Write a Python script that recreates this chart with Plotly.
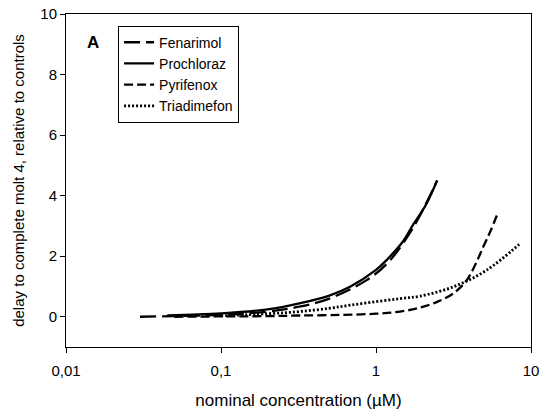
import plotly.graph_objects as go

# Data
fenarimol_x = [0.03, 0.05, 0.1, 0.2, 0.32, 0.5, 0.87, 1.2, 1.74, 2.48]
fenarimol_y = [0.0, 0.02, 0.06, 0.17, 0.33, 0.6, 1.21, 1.8, 2.95, 4.5]

prochloraz_x = [0.045, 0.1, 0.2, 0.32, 0.5, 0.68, 1.0, 1.17, 1.5, 1.74, 2.1, 2.48]
prochloraz_y = [0.04, 0.11, 0.24, 0.44, 0.7, 0.99, 1.55, 1.87, 2.5, 3.05, 3.7, 4.5]

pyrifenox_x = [0.05, 0.1, 0.2, 0.32, 0.6, 1.0, 1.43, 1.92, 2.5, 3.16, 3.85, 4.4, 4.92, 5.5, 6.07]
pyrifenox_y = [0.0, 0.01, 0.02, 0.04, 0.06, 0.1, 0.17, 0.3, 0.5, 0.77, 1.21, 1.75, 2.31, 2.85, 3.39]

triadimefon_x = [0.1, 0.2, 0.32, 0.5, 0.68, 1.0, 1.43, 1.92, 3.16, 5.18, 8.38]
triadimefon_y = [0.03, 0.1, 0.17, 0.28, 0.38, 0.5, 0.6, 0.68, 0.99, 1.54, 2.39]

x_tickvals = [0.01, 0.1, 1, 10]
x_ticktext = ["0,01", "0,1", "1", "10"]
y_tickvals = [0, 2, 4, 6, 8, 10]

FONT = "Arial, Liberation Sans, sans-serif"

fig = go.Figure()
fig.add_trace(go.Scatter(x=fenarimol_x, y=fenarimol_y, mode="lines", name="Fenarimol",
                         line=dict(color="black", width=2.3, dash="16px,6px", shape="spline")))
fig.add_trace(go.Scatter(x=prochloraz_x, y=prochloraz_y, mode="lines", name="Prochloraz",
                         line=dict(color="black", width=2.3, shape="spline")))
fig.add_trace(go.Scatter(x=pyrifenox_x, y=pyrifenox_y, mode="lines", name="Pyrifenox",
                         line=dict(color="black", width=2.3, dash="9px,4px", shape="spline")))
fig.add_trace(go.Scatter(x=triadimefon_x, y=triadimefon_y, mode="lines", name="Triadimefon",
                         line=dict(color="black", width=2.8, dash="2px,2px", shape="spline")))

fig.update_layout(
    width=542, height=414,
    margin=dict(l=66, r=11, t=14, b=67),
    paper_bgcolor="white", plot_bgcolor="white",
    font=dict(family=FONT, size=14, color="black"),
    showlegend=True,
    legend=dict(x=0.112, y=0.965, xanchor="left", yanchor="top",
                bordercolor="black", borderwidth=1, bgcolor="white",
                font=dict(size=14), tracegroupgap=0, itemwidth=30),
    xaxis=dict(type="log", range=[-2, 1], tickvals=x_tickvals, ticktext=x_ticktext,
               ticks="outside", ticklen=5, tickcolor="black", showline=True,
               linecolor="black", linewidth=1, mirror=True, showgrid=False, zeroline=False,
               tickfont=dict(size=15), ticklabelstandoff=5, automargin=False,
               title=dict(text="nominal concentration (µM)", font=dict(size=17), standoff=16)),
    yaxis=dict(range=[-1, 10], tickvals=y_tickvals, ticks="outside", ticklen=5,
               tickcolor="black", showline=True, linecolor="black", linewidth=1,
               mirror=True, showgrid=False, zeroline=False, tickfont=dict(size=15),
               automargin=False,
               title=dict(text="delay to complete molt 4, relative to controls",
                          font=dict(size=15), standoff=12)),
    annotations=[dict(text="<b>A</b>", x=0.058, y=0.915, xref="paper", yref="paper",
                      xanchor="center", yanchor="middle", showarrow=False,
                      font=dict(size=17, color="black"))],
)

fig.write_html("out.html")
